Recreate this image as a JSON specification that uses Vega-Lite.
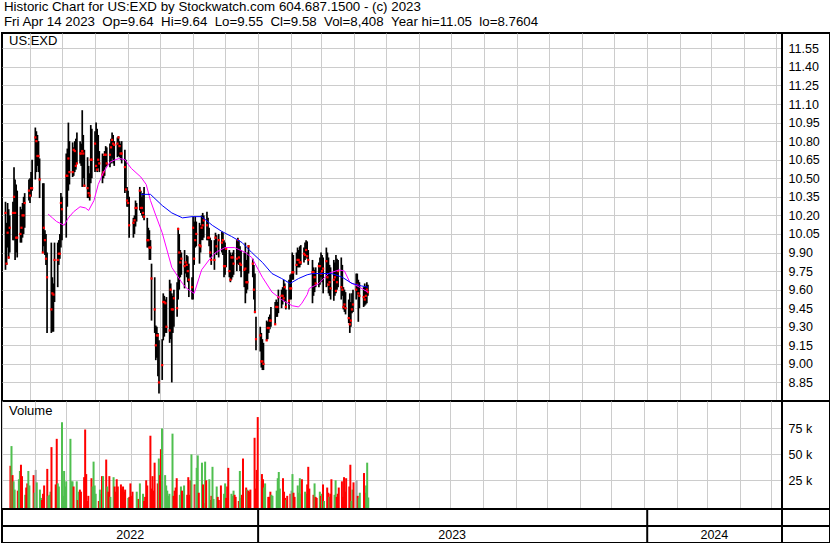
{
"$schema": "https://vega.github.io/schema/vega-lite/v6.json",
"background": "white",
"padding": {"left": 1, "top": 0, "right": 1, "bottom": 0},
"title": {"text": ["Historic Chart for US:EXD by Stockwatch.com 604.687.1500 - (c) 2023", "Fri Apr 14 2023\u00a0\u00a0Op=9.64\u00a0\u00a0Hi=9.64\u00a0\u00a0Lo=9.55\u00a0\u00a0Cl=9.58\u00a0\u00a0Vol=8,408\u00a0\u00a0Year hi=11.05\u00a0\u00a0lo=8.7604"], "anchor": "start", "frame": "group", "fontSize": 13.3, "lineHeight": 14.7, "offset": 4, "dx": 2},
"config": {
  "view": {"stroke": "black", "strokeWidth": 2},
  "axis": {"labelFont": "Liberation Sans", "labelColor": "black", "labelFontSize": 12.5, "gridColor": "#cccccc", "gridWidth": 1, "gridOpacity": 1},
  "title": {"font": "Liberation Sans", "fontWeight": "normal", "color": "black"}
},
"datasets": {
"ohlc": [
{"d":"2022-05-09","h":10.31,"l":9.76,"c":10.22,"v":39000,"s":"d"},
{"d":"2022-05-10","h":10.14,"l":9.80,"c":9.81,"v":58000,"s":"u"},
{"d":"2022-05-11","h":10.30,"l":9.94,"c":10.06,"v":30000,"s":"d"},
{"d":"2022-05-12","h":10.25,"l":9.85,"c":9.86,"v":24000,"s":"u"},
{"d":"2022-05-13","h":10.20,"l":9.90,"c":10.10,"v":16000,"s":"u"},
{"d":"2022-05-16","h":10.31,"l":10.00,"c":10.22,"v":15000,"s":"d"},
{"d":"2022-05-17","h":10.59,"l":10.00,"c":10.35,"v":26000,"s":"u"},
{"d":"2022-05-18","h":10.49,"l":9.84,"c":10.22,"v":34000,"s":"u"},
{"d":"2022-05-19","h":10.45,"l":9.90,"c":10.02,"v":40000,"s":"d"},
{"d":"2022-05-20","h":10.40,"l":9.86,"c":10.02,"v":29000,"s":"d"},
{"d":"2022-05-23","h":10.27,"l":9.98,"c":10.05,"v":11000,"s":"u"},
{"d":"2022-05-24","h":10.25,"l":9.98,"c":10.10,"v":18000,"s":"d"},
{"d":"2022-05-25","h":10.30,"l":10.02,"c":10.20,"v":22000,"s":"d"},
{"d":"2022-05-26","h":10.35,"l":10.05,"c":10.20,"v":34000,"s":"u"},
{"d":"2022-05-27","h":10.38,"l":10.10,"c":10.30,"v":20000,"s":"u"},
{"d":"2022-05-31","h":10.49,"l":10.32,"c":10.40,"v":30000,"s":"d"},
{"d":"2022-06-01","h":10.50,"l":10.30,"c":10.36,"v":13000,"s":"u"},
{"d":"2022-06-02","h":10.55,"l":10.35,"c":10.42,"v":35000,"s":"n"},
{"d":"2022-06-03","h":10.65,"l":10.40,"c":10.42,"v":23000,"s":"u"},
{"d":"2022-06-06","h":10.91,"l":10.49,"c":10.83,"v":16000,"s":"u"},
{"d":"2022-06-07","h":10.88,"l":10.55,"c":10.80,"v":8000,"s":"u"},
{"d":"2022-06-08","h":10.85,"l":10.60,"c":10.68,"v":6000,"s":"d"},
{"d":"2022-06-09","h":10.80,"l":10.55,"c":10.68,"v":12000,"s":"d"},
{"d":"2022-06-10","h":10.66,"l":10.34,"c":10.49,"v":20000,"s":"d"},
{"d":"2022-06-13","h":10.46,"l":9.90,"c":9.90,"v":36000,"s":"d"},
{"d":"2022-06-14","h":10.46,"l":9.95,"c":10.10,"v":10000,"s":"u"},
{"d":"2022-06-15","h":10.08,"l":9.88,"c":10.00,"v":11000,"s":"u"},
{"d":"2022-06-16","h":10.05,"l":9.80,"c":9.85,"v":14000,"s":"u"},
{"d":"2022-06-17","h":9.90,"l":9.25,"c":9.70,"v":57000,"s":"d"},
{"d":"2022-06-21","h":9.98,"l":9.25,"c":9.44,"v":21000,"s":"d"},
{"d":"2022-06-22","h":9.70,"l":9.26,"c":9.57,"v":65000,"s":"d"},
{"d":"2022-06-23","h":9.65,"l":9.26,"c":9.56,"v":22000,"s":"u"},
{"d":"2022-06-24","h":9.98,"l":9.50,"c":9.84,"v":19000,"s":"u"},
{"d":"2022-06-27","h":9.98,"l":9.62,"c":9.84,"v":81000,"s":"u"},
{"d":"2022-06-28","h":10.00,"l":9.80,"c":9.89,"v":10000,"s":"u"},
{"d":"2022-06-29","h":10.05,"l":9.85,"c":9.89,"v":34000,"s":"u"},
{"d":"2022-06-30","h":10.38,"l":9.94,"c":10.30,"v":19000,"s":"u"},
{"d":"2022-07-01","h":10.35,"l":10.00,"c":10.25,"v":24000,"s":"u"},
{"d":"2022-07-05","h":10.70,"l":10.02,"c":10.52,"v":65000,"s":"u"},
{"d":"2022-07-06","h":10.74,"l":10.27,"c":10.52,"v":24000,"s":"u"},
{"d":"2022-07-07","h":10.95,"l":10.40,"c":10.66,"v":24000,"s":"u"},
{"d":"2022-07-08","h":10.80,"l":10.45,"c":10.55,"v":19000,"s":"d"},
{"d":"2022-07-11","h":10.79,"l":10.51,"c":10.55,"v":24000,"s":"u"},
{"d":"2022-07-12","h":10.75,"l":10.52,"c":10.73,"v":6000,"s":"d"},
{"d":"2022-07-13","h":10.80,"l":10.55,"c":10.72,"v":14000,"s":"u"},
{"d":"2022-07-14","h":10.82,"l":10.57,"c":10.60,"v":16000,"s":"d"},
{"d":"2022-07-15","h":10.87,"l":10.62,"c":10.62,"v":14000,"s":"d"},
{"d":"2022-07-18","h":10.80,"l":10.62,"c":10.70,"v":28000,"s":"d"},
{"d":"2022-07-19","h":10.78,"l":10.60,"c":10.70,"v":74000,"s":"d"},
{"d":"2022-07-20","h":11.05,"l":10.43,"c":10.72,"v":31000,"s":"d"},
{"d":"2022-07-21","h":10.85,"l":10.50,"c":10.70,"v":5000,"s":"d"},
{"d":"2022-07-22","h":10.73,"l":10.43,"c":10.44,"v":10000,"s":"d"},
{"d":"2022-07-25","h":10.67,"l":10.34,"c":10.42,"v":27000,"s":"d"},
{"d":"2022-07-26","h":10.60,"l":10.34,"c":10.38,"v":19000,"s":"u"},
{"d":"2022-07-27","h":10.54,"l":10.32,"c":10.36,"v":43000,"s":"u"},
{"d":"2022-07-28","h":10.93,"l":10.46,"c":10.65,"v":20000,"s":"u"},
{"d":"2022-07-29","h":10.90,"l":10.50,"c":10.65,"v":12000,"s":"u"},
{"d":"2022-08-01","h":10.88,"l":10.55,"c":10.78,"v":5000,"s":"d"},
{"d":"2022-08-02","h":10.95,"l":10.57,"c":10.60,"v":16000,"s":"u"},
{"d":"2022-08-03","h":10.90,"l":10.55,"c":10.57,"v":12000,"s":"u"},
{"d":"2022-08-04","h":10.85,"l":10.58,"c":10.65,"v":29000,"s":"d"},
{"d":"2022-08-05","h":10.72,"l":10.55,"c":10.62,"v":29000,"s":"u"},
{"d":"2022-08-08","h":10.70,"l":10.46,"c":10.53,"v":45000,"s":"d"},
{"d":"2022-08-09","h":10.68,"l":10.50,"c":10.55,"v":19000,"s":"u"},
{"d":"2022-08-10","h":10.72,"l":10.52,"c":10.69,"v":14000,"s":"d"},
{"d":"2022-08-11","h":10.76,"l":10.59,"c":10.69,"v":29000,"s":"d"},
{"d":"2022-08-12","h":10.75,"l":10.60,"c":10.62,"v":9000,"s":"u"},
{"d":"2022-08-15","h":10.78,"l":10.59,"c":10.69,"v":28000,"s":"u"},
{"d":"2022-08-16","h":10.82,"l":10.62,"c":10.75,"v":19000,"s":"d"},
{"d":"2022-08-17","h":10.87,"l":10.66,"c":10.81,"v":14000,"s":"d"},
{"d":"2022-08-18","h":10.85,"l":10.62,"c":10.78,"v":26000,"s":"d"},
{"d":"2022-08-19","h":10.80,"l":10.60,"c":10.77,"v":19000,"s":"d"},
{"d":"2022-08-22","h":10.83,"l":10.67,"c":10.78,"v":21000,"s":"d"},
{"d":"2022-08-23","h":10.84,"l":10.68,"c":10.83,"v":17000,"s":"d"},
{"d":"2022-08-24","h":10.80,"l":10.67,"c":10.76,"v":19000,"s":"d"},
{"d":"2022-08-25","h":10.78,"l":10.65,"c":10.70,"v":14000,"s":"d"},
{"d":"2022-08-26","h":10.80,"l":10.62,"c":10.70,"v":16000,"s":"d"},
{"d":"2022-08-29","h":10.73,"l":10.38,"c":10.59,"v":8000,"s":"u"},
{"d":"2022-08-30","h":10.65,"l":10.40,"c":10.41,"v":9000,"s":"d"},
{"d":"2022-08-31","h":10.43,"l":10.27,"c":10.32,"v":22000,"s":"d"},
{"d":"2022-09-01","h":10.40,"l":10.27,"c":10.30,"v":10000,"s":"d"},
{"d":"2022-09-02","h":10.35,"l":10.02,"c":10.12,"v":14000,"s":"d"},
{"d":"2022-09-06","h":10.18,"l":10.02,"c":10.14,"v":14000,"s":"u"},
{"d":"2022-09-07","h":10.20,"l":10.05,"c":10.16,"v":7000,"s":"u"},
{"d":"2022-09-08","h":10.32,"l":10.11,"c":10.26,"v":7000,"s":"d"},
{"d":"2022-09-09","h":10.30,"l":10.15,"c":10.26,"v":22000,"s":"u"},
{"d":"2022-09-12","h":10.43,"l":10.24,"c":10.40,"v":12000,"s":"u"},
{"d":"2022-09-13","h":10.40,"l":10.22,"c":10.26,"v":5000,"s":"d"},
{"d":"2022-09-14","h":10.35,"l":10.20,"c":10.26,"v":9000,"s":"d"},
{"d":"2022-09-15","h":10.38,"l":10.18,"c":10.22,"v":25000,"s":"d"},
{"d":"2022-09-16","h":10.43,"l":10.16,"c":10.19,"v":20000,"s":"d"},
{"d":"2022-09-19","h":10.18,"l":9.94,"c":10.00,"v":68000,"s":"d"},
{"d":"2022-09-20","h":10.10,"l":9.94,"c":10.00,"v":17000,"s":"d"},
{"d":"2022-09-21","h":10.08,"l":9.84,"c":9.94,"v":29000,"s":"d"},
{"d":"2022-09-22","h":10.00,"l":9.84,"c":9.94,"v":15000,"s":"d"},
{"d":"2022-09-23","h":9.81,"l":9.35,"c":9.69,"v":42000,"s":"d"},
{"d":"2022-09-26","h":9.70,"l":9.25,"c":9.44,"v":22000,"s":"d"},
{"d":"2022-09-27","h":9.31,"l":9.03,"c":9.15,"v":46000,"s":"u"},
{"d":"2022-09-28","h":9.30,"l":9.05,"c":9.23,"v":30000,"s":"d"},
{"d":"2022-09-29","h":9.25,"l":8.90,"c":9.23,"v":55000,"s":"d"},
{"d":"2022-09-30","h":9.19,"l":8.76,"c":8.85,"v":75000,"s":"u"},
{"d":"2022-10-03","h":9.20,"l":8.87,"c":8.99,"v":30000,"s":"u"},
{"d":"2022-10-04","h":9.57,"l":9.19,"c":9.50,"v":20000,"s":"u"},
{"d":"2022-10-05","h":9.55,"l":9.22,"c":9.50,"v":15000,"s":"u"},
{"d":"2022-10-06","h":9.52,"l":9.25,"c":9.49,"v":10000,"s":"u"},
{"d":"2022-10-07","h":9.54,"l":9.25,"c":9.30,"v":12000,"s":"u"},
{"d":"2022-10-10","h":9.68,"l":9.17,"c":9.27,"v":70000,"s":"u"},
{"d":"2022-10-11","h":9.65,"l":9.20,"c":9.60,"v":10000,"s":"d"},
{"d":"2022-10-12","h":9.57,"l":8.85,"c":9.44,"v":15000,"s":"d"},
{"d":"2022-10-13","h":9.55,"l":9.25,"c":9.44,"v":18000,"s":"d"},
{"d":"2022-10-14","h":9.60,"l":9.30,"c":9.53,"v":27000,"s":"d"},
{"d":"2022-10-17","h":9.66,"l":9.38,"c":9.45,"v":11000,"s":"u"},
{"d":"2022-10-18","h":10.10,"l":9.52,"c":10.09,"v":19000,"s":"u"},
{"d":"2022-10-19","h":10.05,"l":9.60,"c":9.90,"v":15000,"s":"d"},
{"d":"2022-10-20","h":9.92,"l":9.70,"c":9.82,"v":12000,"s":"d"},
{"d":"2022-10-21","h":9.90,"l":9.72,"c":9.85,"v":20000,"s":"u"},
{"d":"2022-10-24","h":9.92,"l":9.61,"c":9.79,"v":11000,"s":"d"},
{"d":"2022-10-25","h":9.82,"l":9.73,"c":9.82,"v":28000,"s":"d"},
{"d":"2022-10-26","h":9.88,"l":9.70,"c":9.80,"v":11000,"s":"d"},
{"d":"2022-10-27","h":9.87,"l":9.66,"c":9.75,"v":25000,"s":"d"},
{"d":"2022-10-28","h":9.81,"l":9.54,"c":9.68,"v":50000,"s":"u"},
{"d":"2022-10-31","h":9.70,"l":9.52,"c":9.62,"v":21000,"s":"d"},
{"d":"2022-11-01","h":10.19,"l":9.52,"c":10.10,"v":20000,"s":"n"},
{"d":"2022-11-02","h":10.15,"l":9.80,"c":9.85,"v":37000,"s":"u"},
{"d":"2022-11-03","h":10.19,"l":9.94,"c":10.00,"v":49000,"s":"u"},
{"d":"2022-11-04","h":10.15,"l":9.95,"c":10.05,"v":13000,"s":"d"},
{"d":"2022-11-07","h":10.14,"l":9.81,"c":9.96,"v":42000,"s":"u"},
{"d":"2022-11-08","h":10.12,"l":9.90,"c":9.95,"v":21000,"s":"d"},
{"d":"2022-11-09","h":10.20,"l":10.00,"c":10.10,"v":3000,"s":"d"},
{"d":"2022-11-10","h":10.22,"l":10.00,"c":10.12,"v":43000,"s":"u"},
{"d":"2022-11-11","h":10.20,"l":10.02,"c":10.16,"v":25000,"s":"d"},
{"d":"2022-11-14","h":10.23,"l":10.00,"c":10.12,"v":26000,"s":"u"},
{"d":"2022-11-15","h":10.18,"l":10.00,"c":10.02,"v":6000,"s":"u"},
{"d":"2022-11-16","h":10.10,"l":9.95,"c":10.02,"v":10000,"s":"d"},
{"d":"2022-11-17","h":10.02,"l":9.86,"c":9.90,"v":38000,"s":"u"},
{"d":"2022-11-18","h":10.00,"l":9.80,"c":9.84,"v":7000,"s":"u"},
{"d":"2022-11-21","h":10.00,"l":9.76,"c":9.84,"v":19000,"s":"u"},
{"d":"2022-11-22","h":10.06,"l":9.90,"c":10.02,"v":9000,"s":"d"},
{"d":"2022-11-23","h":10.04,"l":9.88,"c":9.95,"v":6000,"s":"d"},
{"d":"2022-11-25","h":10.05,"l":9.86,"c":10.00,"v":20000,"s":"d"},
{"d":"2022-11-28","h":10.07,"l":9.90,"c":9.98,"v":12000,"s":"u"},
{"d":"2022-11-29","h":10.06,"l":9.88,"c":10.00,"v":22000,"s":"u"},
{"d":"2022-11-30","h":10.00,"l":9.70,"c":9.79,"v":8000,"s":"d"},
{"d":"2022-12-01","h":9.98,"l":9.72,"c":9.79,"v":19000,"s":"d"},
{"d":"2022-12-02","h":9.94,"l":9.78,"c":9.93,"v":37000,"s":"d"},
{"d":"2022-12-05","h":9.92,"l":9.70,"c":9.75,"v":12000,"s":"u"},
{"d":"2022-12-06","h":9.90,"l":9.66,"c":9.68,"v":10000,"s":"u"},
{"d":"2022-12-07","h":9.88,"l":9.68,"c":9.86,"v":15000,"s":"u"},
{"d":"2022-12-08","h":9.90,"l":9.70,"c":9.86,"v":11000,"s":"d"},
{"d":"2022-12-09","h":9.92,"l":9.72,"c":9.81,"v":9000,"s":"d"},
{"d":"2022-12-12","h":10.00,"l":9.75,"c":9.85,"v":5000,"s":"d"},
{"d":"2022-12-13","h":10.02,"l":9.81,"c":10.00,"v":34000,"s":"u"},
{"d":"2022-12-14","h":10.00,"l":9.80,"c":9.86,"v":8000,"s":"u"},
{"d":"2022-12-15","h":9.95,"l":9.75,"c":9.81,"v":11000,"s":"d"},
{"d":"2022-12-16","h":9.92,"l":9.70,"c":9.80,"v":46000,"s":"d"},
{"d":"2022-12-19","h":9.90,"l":9.62,"c":9.76,"v":18000,"s":"d"},
{"d":"2022-12-20","h":9.98,"l":9.49,"c":9.77,"v":16000,"s":"u"},
{"d":"2022-12-21","h":9.84,"l":9.57,"c":9.66,"v":15000,"s":"d"},
{"d":"2022-12-22","h":9.90,"l":9.60,"c":9.66,"v":14000,"s":"d"},
{"d":"2022-12-23","h":9.96,"l":9.73,"c":9.95,"v":16000,"s":"d"},
{"d":"2022-12-27","h":9.85,"l":9.70,"c":9.81,"v":66000,"s":"d"},
{"d":"2022-12-28","h":9.80,"l":9.52,"c":9.60,"v":17000,"s":"d"},
{"d":"2022-12-29","h":9.73,"l":9.41,"c":9.42,"v":35000,"s":"d"},
{"d":"2022-12-30","h":9.38,"l":9.11,"c":9.20,"v":86000,"s":"d"},
{"d":"2023-01-03","h":9.30,"l":9.10,"c":9.23,"v":31000,"s":"d"},
{"d":"2023-01-04","h":9.25,"l":8.97,"c":9.02,"v":26000,"s":"d"},
{"d":"2023-01-05","h":9.20,"l":8.95,"c":9.02,"v":18000,"s":"u"},
{"d":"2023-01-06","h":9.17,"l":8.95,"c":9.00,"v":22000,"s":"u"},
{"d":"2023-01-09","h":9.35,"l":9.19,"c":9.19,"v":9000,"s":"d"},
{"d":"2023-01-10","h":9.34,"l":9.20,"c":9.29,"v":9000,"s":"d"},
{"d":"2023-01-11","h":9.38,"l":9.25,"c":9.29,"v":14000,"s":"d"},
{"d":"2023-01-12","h":9.40,"l":9.28,"c":9.35,"v":11000,"s":"u"},
{"d":"2023-01-13","h":9.46,"l":9.30,"c":9.35,"v":10000,"s":"u"},
{"d":"2023-01-17","h":9.50,"l":9.32,"c":9.32,"v":15000,"s":"u"},
{"d":"2023-01-18","h":9.52,"l":9.38,"c":9.46,"v":27000,"s":"u"},
{"d":"2023-01-19","h":9.50,"l":9.38,"c":9.46,"v":33000,"s":"u"},
{"d":"2023-01-20","h":9.60,"l":9.41,"c":9.54,"v":17000,"s":"u"},
{"d":"2023-01-23","h":9.60,"l":9.45,"c":9.55,"v":27000,"s":"d"},
{"d":"2023-01-24","h":9.62,"l":9.48,"c":9.55,"v":14000,"s":"d"},
{"d":"2023-01-25","h":9.68,"l":9.52,"c":9.53,"v":8000,"s":"d"},
{"d":"2023-01-26","h":9.65,"l":9.50,"c":9.62,"v":6000,"s":"u"},
{"d":"2023-01-27","h":9.60,"l":9.44,"c":9.46,"v":10000,"s":"d"},
{"d":"2023-01-30","h":9.68,"l":9.44,"c":9.51,"v":12000,"s":"d"},
{"d":"2023-01-31","h":9.72,"l":9.52,"c":9.61,"v":15000,"s":"n"},
{"d":"2023-02-01","h":9.73,"l":9.52,"c":9.61,"v":31000,"s":"u"},
{"d":"2023-02-02","h":9.90,"l":9.68,"c":9.74,"v":13000,"s":"d"},
{"d":"2023-02-03","h":9.88,"l":9.68,"c":9.74,"v":9000,"s":"d"},
{"d":"2023-02-06","h":9.90,"l":9.72,"c":9.80,"v":20000,"s":"u"},
{"d":"2023-02-07","h":9.94,"l":9.78,"c":9.84,"v":13000,"s":"u"},
{"d":"2023-02-08","h":9.92,"l":9.78,"c":9.84,"v":27000,"s":"u"},
{"d":"2023-02-09","h":9.95,"l":9.78,"c":9.82,"v":12000,"s":"u"},
{"d":"2023-02-10","h":9.96,"l":9.80,"c":9.82,"v":26000,"s":"d"},
{"d":"2023-02-13","h":9.94,"l":9.82,"c":9.89,"v":14000,"s":"u"},
{"d":"2023-02-14","h":9.98,"l":9.84,"c":9.88,"v":12000,"s":"u"},
{"d":"2023-02-15","h":10.00,"l":9.86,"c":9.92,"v":21000,"s":"d"},
{"d":"2023-02-16","h":9.99,"l":9.85,"c":9.87,"v":38000,"s":"d"},
{"d":"2023-02-17","h":9.92,"l":9.80,"c":9.84,"v":17000,"s":"d"},
{"d":"2023-02-21","h":9.84,"l":9.49,"c":9.74,"v":11000,"s":"d"},
{"d":"2023-02-22","h":9.78,"l":9.55,"c":9.74,"v":22000,"s":"u"},
{"d":"2023-02-23","h":9.76,"l":9.58,"c":9.70,"v":9000,"s":"d"},
{"d":"2023-02-24","h":9.78,"l":9.62,"c":9.65,"v":8000,"s":"d"},
{"d":"2023-02-27","h":9.82,"l":9.62,"c":9.79,"v":14000,"s":"u"},
{"d":"2023-02-28","h":9.86,"l":9.64,"c":9.79,"v":10000,"s":"d"},
{"d":"2023-03-01","h":9.90,"l":9.70,"c":9.73,"v":12000,"s":"u"},
{"d":"2023-03-02","h":9.88,"l":9.66,"c":9.75,"v":21000,"s":"d"},
{"d":"2023-03-03","h":9.86,"l":9.57,"c":9.77,"v":5000,"s":"u"},
{"d":"2023-03-06","h":9.94,"l":9.62,"c":9.83,"v":18000,"s":"d"},
{"d":"2023-03-07","h":9.90,"l":9.65,"c":9.70,"v":13000,"s":"d"},
{"d":"2023-03-08","h":9.86,"l":9.57,"c":9.64,"v":9000,"s":"u"},
{"d":"2023-03-09","h":9.80,"l":9.55,"c":9.66,"v":12000,"s":"d"},
{"d":"2023-03-10","h":9.78,"l":9.52,"c":9.61,"v":26000,"s":"d"},
{"d":"2023-03-13","h":9.84,"l":9.51,"c":9.68,"v":11000,"s":"u"},
{"d":"2023-03-14","h":9.82,"l":9.55,"c":9.70,"v":25000,"s":"u"},
{"d":"2023-03-15","h":9.88,"l":9.57,"c":9.59,"v":9000,"s":"d"},
{"d":"2023-03-16","h":9.85,"l":9.60,"c":9.66,"v":12000,"s":"d"},
{"d":"2023-03-17","h":9.84,"l":9.62,"c":9.75,"v":18000,"s":"d"},
{"d":"2023-03-20","h":9.86,"l":9.52,"c":9.62,"v":24000,"s":"d"},
{"d":"2023-03-21","h":9.80,"l":9.55,"c":9.60,"v":9000,"s":"d"},
{"d":"2023-03-22","h":9.62,"l":9.44,"c":9.46,"v":28000,"s":"d"},
{"d":"2023-03-23","h":9.60,"l":9.42,"c":9.48,"v":14000,"s":"d"},
{"d":"2023-03-24","h":9.58,"l":9.40,"c":9.45,"v":27000,"s":"d"},
{"d":"2023-03-27","h":9.52,"l":9.33,"c":9.37,"v":19000,"s":"d"},
{"d":"2023-03-28","h":9.57,"l":9.25,"c":9.32,"v":40000,"s":"d"},
{"d":"2023-03-29","h":9.50,"l":9.30,"c":9.35,"v":5000,"s":"u"},
{"d":"2023-03-30","h":9.57,"l":9.41,"c":9.44,"v":16000,"s":"u"},
{"d":"2023-03-31","h":9.60,"l":9.42,"c":9.48,"v":23000,"s":"d"},
{"d":"2023-04-03","h":9.73,"l":9.52,"c":9.60,"v":25000,"s":"n"},
{"d":"2023-04-04","h":9.73,"l":9.56,"c":9.64,"v":10000,"s":"d"},
{"d":"2023-04-05","h":9.68,"l":9.34,"c":9.57,"v":8000,"s":"u"},
{"d":"2023-04-06","h":9.66,"l":9.45,"c":9.55,"v":13000,"s":"u"},
{"d":"2023-04-10","h":9.62,"l":9.46,"c":9.54,"v":32000,"s":"d"},
{"d":"2023-04-11","h":9.65,"l":9.47,"c":9.52,"v":13000,"s":"d"},
{"d":"2023-04-12","h":9.63,"l":9.48,"c":9.55,"v":20000,"s":"u"},
{"d":"2023-04-13","h":9.66,"l":9.49,"c":9.60,"v":42000,"s":"u"},
{"d":"2023-04-14","h":9.64,"l":9.55,"c":9.58,"v":8408,"s":"u"}
],
"ma1": [
{"d":"2022-06-18","m":10.21},{"d":"2022-06-22","m":10.18},{"d":"2022-06-26","m":10.15},{"d":"2022-07-03","m":10.12},
{"d":"2022-07-07","m":10.18},{"d":"2022-07-12","m":10.23},{"d":"2022-07-18","m":10.27},{"d":"2022-07-23","m":10.26},
{"d":"2022-07-26","m":10.24},{"d":"2022-07-31","m":10.32},{"d":"2022-08-04","m":10.45},{"d":"2022-08-09","m":10.55},
{"d":"2022-08-15","m":10.63},{"d":"2022-08-20","m":10.65},{"d":"2022-08-24","m":10.66},{"d":"2022-08-29","m":10.65},
{"d":"2022-09-04","m":10.58},{"d":"2022-09-13","m":10.51},{"d":"2022-09-18","m":10.45},{"d":"2022-09-22","m":10.32},
{"d":"2022-09-27","m":10.20},{"d":"2022-10-03","m":10.06},{"d":"2022-10-12","m":9.78},{"d":"2022-10-22","m":9.65},
{"d":"2022-10-26","m":9.61},{"d":"2022-11-02","m":9.57},{"d":"2022-11-09","m":9.76},{"d":"2022-11-16","m":9.84},
{"d":"2022-11-22","m":9.90},{"d":"2022-12-01","m":9.94},{"d":"2022-12-10","m":9.94},{"d":"2022-12-20","m":9.90},
{"d":"2022-12-26","m":9.86},{"d":"2023-01-05","m":9.70},{"d":"2023-01-14","m":9.58},{"d":"2023-01-23","m":9.52},
{"d":"2023-02-02","m":9.47},{"d":"2023-02-08","m":9.46},{"d":"2023-02-11","m":9.49},{"d":"2023-02-16","m":9.56},
{"d":"2023-02-18","m":9.61},{"d":"2023-02-27","m":9.65},{"d":"2023-03-08","m":9.73},{"d":"2023-03-18","m":9.76},
{"d":"2023-03-23","m":9.75},{"d":"2023-03-28","m":9.66},{"d":"2023-04-06","m":9.62},{"d":"2023-04-14","m":9.58}
],
"ma2": [
{"d":"2022-09-13","m":10.37},{"d":"2022-09-22","m":10.37},{"d":"2022-10-03","m":10.28},{"d":"2022-10-12","m":10.22},
{"d":"2022-10-22","m":10.18},{"d":"2022-10-31","m":10.19},{"d":"2022-11-09","m":10.19},{"d":"2022-11-19","m":10.12},
{"d":"2022-11-28","m":10.07},{"d":"2022-12-07","m":10.03},{"d":"2022-12-17","m":9.98},{"d":"2022-12-26","m":9.90},
{"d":"2023-01-05","m":9.82},{"d":"2023-01-14","m":9.73},{"d":"2023-01-23","m":9.69},{"d":"2023-01-31","m":9.65},
{"d":"2023-02-08","m":9.69},{"d":"2023-02-16","m":9.72},{"d":"2023-02-21","m":9.73},{"d":"2023-03-02","m":9.73},
{"d":"2023-03-11","m":9.73},{"d":"2023-03-21","m":9.70},{"d":"2023-03-30","m":9.65},{"d":"2023-04-08","m":9.63},
{"d":"2023-04-14","m":9.62}
],
"bounds": [{"d":"2023-01-01"},{"d":"2024-01-01"}],
"years": [{"d":"2022-09-03","t":"2022"},{"d":"2023-07-02","t":"2023"},{"d":"2024-03-04","t":"2024"}],
"blank": [{"a":0}]
},
"bounds": "flush",
"spacing": 0,
"columns": 2,
"align": "each",
"resolve": {"scale": {"x": "independent", "y": "independent"}},
"concat": [
  {
   "width": 780, "height": 368,
   "title": {"text": "US:EXD", "anchor": "start", "frame": "group", "offset": -15, "dx": 7, "fontSize": 13},
   "layer": [
    {"data": {"name": "ohlc"}, "mark": {"type": "rule", "color": "black", "strokeWidth": 1.7},
     "encoding": {
      "x": {"field": "d", "type": "temporal", "scale": {"type": "utc", "domain": [{"year": 2022, "month": 5, "date": 5, "hours": 17, "minutes": 30, "utc": true}, {"year": 2024, "month": 5, "date": 6, "hours": 10, "minutes": 30, "utc": true}]}, "axis": {"orient": "bottom", "grid": true, "labels": false, "ticks": false, "domain": false, "title": null, "tickCount": {"interval": "month", "step": 1}}},
      "y": {"field": "l", "type": "quantitative", "scale": {"domain": [8.70, 11.674], "nice": false, "zero": false}, "axis": {"orient": "right", "values": [8.85, 9.0, 9.15, 9.3, 9.45, 9.6, 9.75, 9.9, 10.05, 10.2, 10.35, 10.5, 10.65, 10.8, 10.95, 11.1, 11.25, 11.4, 11.55], "tickCount": 40, "format": ".2f", "grid": true, "ticks": false, "domain": false, "labelPadding": 6, "labelOverlap": false, "labelFlush": false, "title": null}},
      "y2": {"field": "h"}
     }},
    {"data": {"name": "ohlc"}, "mark": {"type": "square", "color": "#ff0000", "size": 5, "opacity": 1, "filled": true},
     "encoding": {"x": {"field": "d", "type": "temporal"}, "y": {"field": "c", "type": "quantitative"}}},
    {"data": {"name": "ma1"}, "mark": {"type": "line", "color": "#ff00ff", "strokeWidth": 1},
     "encoding": {"x": {"field": "d", "type": "temporal"}, "y": {"field": "m", "type": "quantitative"}}},
    {"data": {"name": "ma2"}, "mark": {"type": "line", "color": "#0000ff", "strokeWidth": 1},
     "encoding": {"x": {"field": "d", "type": "temporal"}, "y": {"field": "m", "type": "quantitative"}}}
   ]
  },
  {"width": 48, "height": 368, "data": {"name": "blank"}, "mark": {"type": "point", "opacity": 0},
   "encoding": {"x": {"field": "a", "type": "quantitative", "axis": null}, "y": {"field": "a", "type": "quantitative", "axis": null}}},
  {
   "width": 780, "height": 108,
   "title": {"text": "Volume", "anchor": "start", "frame": "group", "offset": -17, "dx": 7, "fontSize": 13},
   "data": {"name": "ohlc"},
   "mark": {"type": "bar", "width": 2},
   "encoding": {
    "x": {"field": "d", "type": "temporal", "scale": {"type": "utc", "domain": [{"year": 2022, "month": 5, "date": 5, "hours": 17, "minutes": 30, "utc": true}, {"year": 2024, "month": 5, "date": 6, "hours": 10, "minutes": 30, "utc": true}]}, "axis": {"orient": "bottom", "grid": true, "labels": false, "ticks": false, "domain": false, "title": null, "tickCount": {"interval": "month", "step": 1}}},
    "y": {"field": "v", "type": "quantitative", "scale": {"domain": [-2700, 101500], "nice": false, "zero": false}, "axis": {"orient": "right", "values": [25000, 50000, 75000], "tickCount": 20, "labelExpr": "(datum.value / 1000) + ' k'", "grid": true, "ticks": false, "domain": false, "labelPadding": 6, "labelOverlap": false, "labelFlush": false, "title": null}},
    "y2": {"datum": -2700},
    "color": {"field": "s", "type": "nominal", "scale": {"domain": ["u", "d", "n"], "range": ["#4fbf4f", "#ff0000", "#a8a8a8"]}, "legend": null}
   }
  },
  {"width": 48, "height": 108, "data": {"name": "blank"}, "mark": {"type": "point", "opacity": 0},
   "encoding": {"x": {"field": "a", "type": "quantitative", "axis": null}, "y": {"field": "a", "type": "quantitative", "axis": null}}},
  {
   "width": 780, "height": 17,
   "data": {"name": "bounds"},
   "mark": {"type": "rule", "color": "black", "strokeWidth": 2},
   "encoding": {
    "x": {"field": "d", "type": "temporal", "scale": {"type": "utc", "domain": [{"year": 2022, "month": 5, "date": 5, "hours": 17, "minutes": 30, "utc": true}, {"year": 2024, "month": 5, "date": 6, "hours": 10, "minutes": 30, "utc": true}]}, "axis": null}
   }
  },
  {"width": 48, "height": 17, "data": {"name": "blank"}, "mark": {"type": "point", "opacity": 0},
   "encoding": {"x": {"field": "a", "type": "quantitative", "axis": null}, "y": {"field": "a", "type": "quantitative", "axis": null}}},
  {
   "width": 780, "height": 17,
   "layer": [
    {"data": {"name": "bounds"}, "mark": {"type": "rule", "color": "black", "strokeWidth": 2},
     "encoding": {"x": {"field": "d", "type": "temporal", "scale": {"type": "utc", "domain": [{"year": 2022, "month": 5, "date": 5, "hours": 17, "minutes": 30, "utc": true}, {"year": 2024, "month": 5, "date": 6, "hours": 10, "minutes": 30, "utc": true}]}, "axis": null}}},
    {"data": {"name": "years"}, "mark": {"type": "text", "font": "Liberation Sans", "fontSize": 12.5, "color": "black"},
     "encoding": {"x": {"field": "d", "type": "temporal"}, "text": {"field": "t"}}}
   ]
  },
  {"width": 48, "height": 17, "data": {"name": "blank"}, "mark": {"type": "point", "opacity": 0},
   "encoding": {"x": {"field": "a", "type": "quantitative", "axis": null}, "y": {"field": "a", "type": "quantitative", "axis": null}}}
]
}
